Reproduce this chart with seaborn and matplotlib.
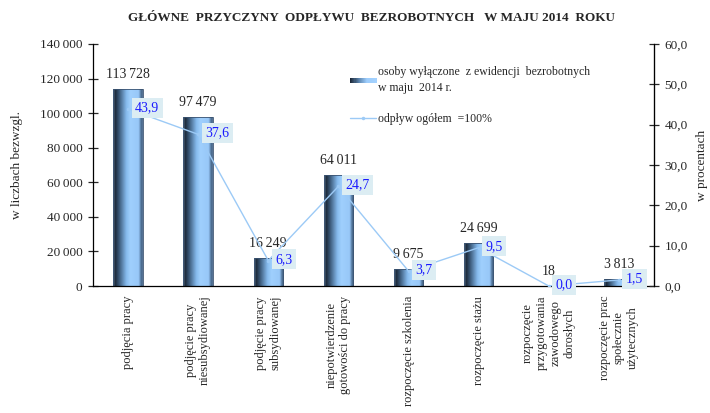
import numpy as np
import pandas as pd
import matplotlib
matplotlib.use("Agg")
import matplotlib.pyplot as plt
import seaborn as sns
from matplotlib.colors import LinearSegmentedColormap
from matplotlib.patches import Rectangle
from matplotlib.lines import Line2D
from matplotlib.legend_handler import HandlerBase
from matplotlib.ticker import FuncFormatter, FixedLocator

# Data
categories = [
    "podjęcia pracy",
    "podjęcie pracy\nniesubsydiowanej",
    "podjęcie pracy\nsubsydiowanej",
    "niepotwierdzenie\ngotowości do pracy",
    "rozpoczęcie szkolenia",
    "rozpoczęcie stażu",
    "rozpoczęcie\nprzygotowania\nzawodowego\ndorosłych",
    "rozpoczęcie prac\nspołecznie\nużytecznych",
]
counts = [113728, 97479, 16249, 64011, 9675, 24699, 18, 3813]
percents = [43.9, 37.6, 6.3, 24.7, 3.7, 9.5, 0.0, 1.5]

df = pd.DataFrame({"cat": categories, "count": counts, "pct": percents})
df["pos"] = range(len(df))

sns.set_style("white")
plt.rcParams["font.family"] = ["Liberation Serif", "DejaVu Serif"]

line_color = "#9ccaf6"
pct_color = "#1a1aff"
box_color = "#dcedf3"

# cylinder-like shading for the bars
bar_cmap = LinearSegmentedColormap.from_list("cyl", [
    (0.0, "#6a88a8"), (0.07, "#1c2838"), (0.18, "#34506e"),
    (0.45, "#86bbee"), (0.58, "#9fcffd"), (0.86, "#98c8f8"),
    (0.95, "#46668a"), (1.0, "#5a7898")])
leg_cmap = LinearSegmentedColormap.from_list("leg", ["#1c2838", "#5d86b0", "#9dcdfc", "#a4d2ff"])


class GradHandler(HandlerBase):
    def create_artists(self, legend, orig_handle, xdescent, ydescent,
                       width, height, fontsize, trans):
        n = 24
        arts = []
        for k in range(n):
            r = Rectangle((-xdescent + k * width / n, -ydescent + height * 0.2),
                          width / n + 0.3, height * 0.55,
                          facecolor=leg_cmap(k / (n - 1)), edgecolor="none",
                          transform=trans)
            arts.append(r)
        return arts


fig = plt.figure(figsize=(7.1, 4.13), dpi=100)
ax = fig.add_axes([0.131, 0.3075, 0.79, 0.586])

sns.barplot(data=df, x="pos", y="count", ax=ax, width=0.42,
            color="#7cb0e4", edgecolor="#3a5270", linewidth=0.6,
            native_scale=False)

grad = np.linspace(0, 1, 200).reshape(1, -1)
for p in ax.patches:
    x0, y0, w, h = p.get_x(), p.get_y(), p.get_width(), p.get_height()
    im = ax.imshow(grad, cmap=bar_cmap, aspect="auto", interpolation="bilinear",
                   extent=(x0, x0 + w, y0, y0 + h), zorder=p.get_zorder() + 0.1)
    im.set_clip_path(p)
    p.set_facecolor("none")
    p.set_zorder(p.get_zorder() + 0.2)

ax.set_xlim(-0.5, len(df) - 0.5)
ax.set_ylim(0, 140000)
ax.set_yticks(np.arange(0, 140001, 20000))
ax.yaxis.set_major_formatter(FuncFormatter(lambda v, _: f"{int(v):,}".replace(",", "\u2009")))
ax.set_xticks(df["pos"])
ax.set_xticklabels(df["cat"], rotation=90, va="top", ha="center",
                   multialignment="center", fontsize=9)
ax.xaxis.set_minor_locator(FixedLocator(np.arange(-0.5, len(df), 1.0)))
ax.tick_params(axis="x", which="major", length=0, pad=7)
ax.tick_params(axis="x", which="minor", length=7, direction="inout", width=0.9)
ax.tick_params(axis="y", length=7, direction="inout", width=0.9, labelsize=9.5, pad=4)
ax.set_xlabel("")
ax.set_ylabel("w liczbach bezwzgl.", fontsize=9.5, labelpad=12)

for s in ["left", "bottom"]:
    ax.spines[s].set_color("black")
    ax.spines[s].set_linewidth(0.9)
ax.spines["top"].set_visible(False)

# value labels above bars
for i, v in enumerate(df["count"]):
    ax.annotate(f"{v:,}".replace(",", "\u2009"), (i, v), xytext=(0, 6),
                textcoords="offset points", ha="center", va="bottom", fontsize=10)

# percentage line on the right axis
ax2 = ax.twinx()
sns.lineplot(data=df, x="pos", y="pct", ax=ax2, color=line_color, linewidth=1.0,
             marker="o", markersize=2.5, markeredgewidth=0)
ax2.set_ylim(0, 60)
ax2.set_xlim(-0.5, len(df) - 0.5)
ax2.set_yticks(np.arange(0, 61, 10))
ax2.yaxis.set_major_formatter(FuncFormatter(lambda v, _: f"{v:.1f}".replace(".", ",")))
ax2.tick_params(axis="y", length=7, direction="inout", width=0.9, labelsize=9.5, pad=4)
ax2.set_ylabel("w procentach", fontsize=9.5, labelpad=6)
ax2.set_xlabel("")
ax2.spines["top"].set_visible(False)
ax2.spines["left"].set_visible(False)
ax2.spines["bottom"].set_visible(False)
ax2.spines["right"].set_color("black")
ax2.spines["right"].set_linewidth(0.9)

for i, v in enumerate(df["pct"]):
    ax2.annotate(f"{v:.1f}".replace(".", ","), (i, v), xytext=(5, 1),
                 textcoords="offset points", ha="left", va="center",
                 fontsize=10, color=pct_color,
                 bbox=dict(boxstyle="square,pad=0.25", facecolor=box_color, edgecolor="none"))

bar_proxy = Rectangle((0, 0), 1, 1)
line_proxy = Line2D([], [], color=line_color, linewidth=1.0, marker="o",
                    markersize=2.5, markeredgewidth=0)
leg = ax2.legend([bar_proxy, line_proxy],
                 ["osoby wyłączone  z ewidencji  bezrobotnych\nw maju  2014 r.",
                  "odpływ ogółem  =100%"],
                 handler_map={bar_proxy: GradHandler()},
                 loc="upper left", bbox_to_anchor=(0.45, 0.93), frameon=False,
                 fontsize=8.5, handlelength=2.2, handletextpad=0.2,
                 labelspacing=1.6, borderaxespad=0)
for t in leg.get_texts():
    t.set_linespacing(1.5)

fig.text(0.523, 1 - 18 / 413, "GŁÓWNE  PRZYCZYNY  ODPŁYWU  BEZROBOTNYCH   W MAJU 2014  ROKU",
         ha="center", va="center", fontsize=9.5, fontweight="bold")

fig.savefig("out.png", dpi=100)
